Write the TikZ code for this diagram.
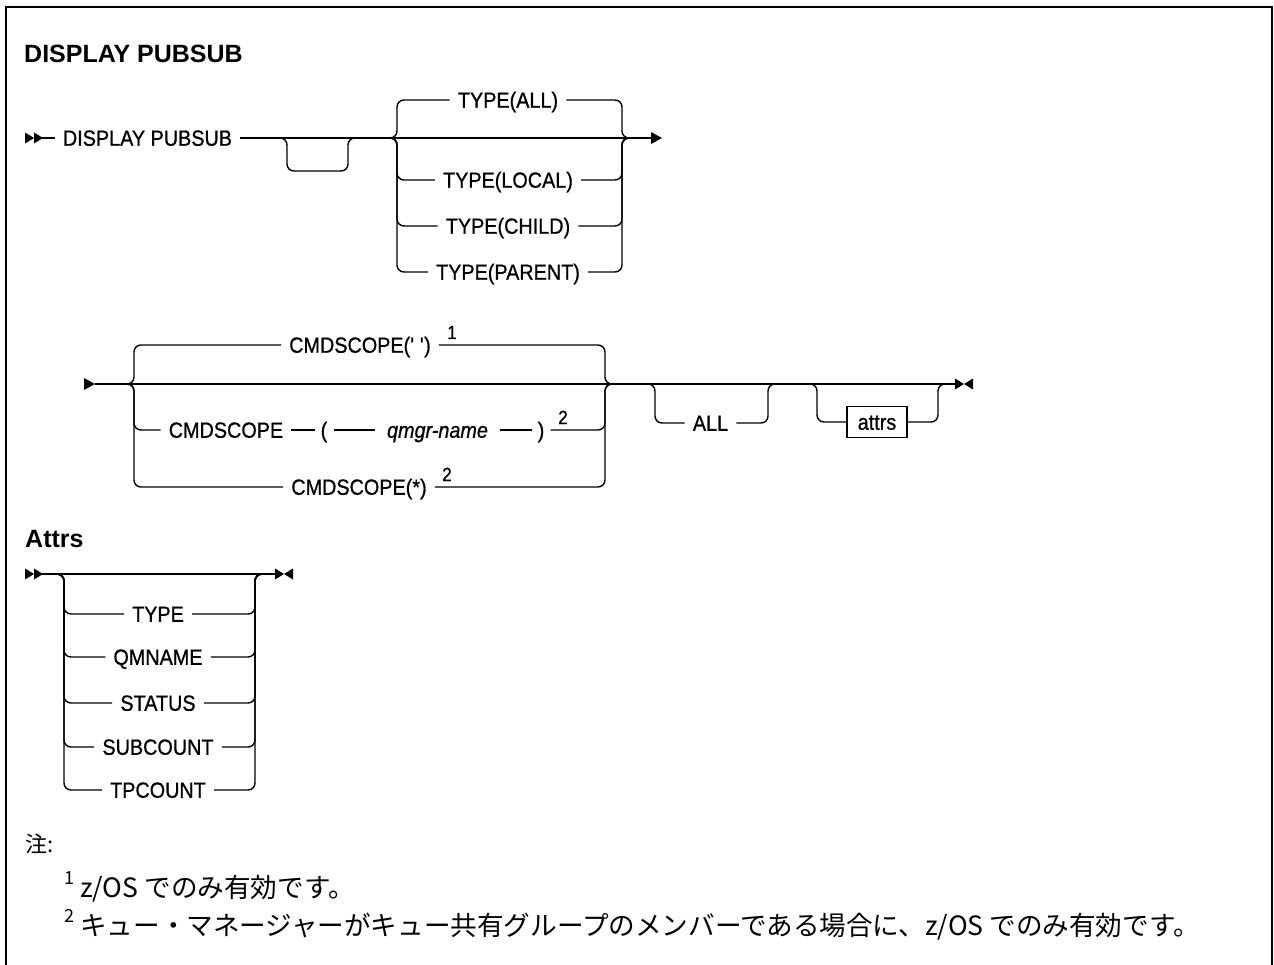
\documentclass[tikz,border=0pt]{standalone}
\usepackage{fontspec}
\setmainfont{Liberation Sans}
\newfontfamily\dg[FakeStretch=0.9,FakeBold=0.8]{Liberation Sans}
\newfontfamily\jp{Noto Sans CJK JP}
\tikzset{
  ln/.style={line width=1.4pt},
  rc/.style={line width=1.4pt, rounded corners=7pt},
  lbl/.style={inner xsep=8pt, inner ysep=0pt, text height=15.5pt, text depth=0pt, font=\dg\fontsize{22}{26}\selectfont},
  supn/.style={inner sep=0pt, anchor=base, font=\dg\fontsize{19}{22}\selectfont},
  head/.style={inner sep=0pt, anchor=base west, font=\fontsize{25}{30}\selectfont\bfseries},
  boxed/.style={draw, line width=1.4pt, inner sep=0pt, minimum width=60pt, minimum height=31pt, text height=15.5pt, text depth=0pt, font=\dg\fontsize{22}{26}\selectfont},
  jpn/.style={inner sep=0pt, anchor=base west, font=\jp\fontsize{26.6}{30}\selectfont},
  jsup/.style={inner sep=0pt, anchor=base west, font=\jp\fontsize{18}{20}\selectfont},
}
\begin{document}
\begin{tikzpicture}[x=1pt,y=-1pt]
\useasboundingbox (0,0) rectangle (1274,965);
\draw[line width=2pt] (6,966) -- (6,7) -- (1272,7) -- (1272,966);

% ---------- DISPLAY PUBSUB ----------
\node[head] (h1) at (24,63) {DISPLAY PUBSUB};

% line 1
\fill (25,132.5) -- (34,138) -- (25,143.5) -- cycle;
\fill (34,132.5) -- (43,138) -- (34,143.5) -- cycle;
\coordinate (s1) at (34,138);
\node[lbl] (d1) at (147.5,138) {DISPLAY PUBSUB};
\coordinate (e1) at (651,138);
\draw[ln] (s1) -- (d1.west);
\draw[ln] (d1.east) -- (e1);
\fill (651,132) -- (662,138) -- (651,144) -- cycle;

% empty loop
\coordinate (g0a) at (279,138);
\coordinate (g0b) at (356,138);
\draw[rc] (g0a) -- (287,138) -- (287,171) -- (348,171) -- (348,138) -- (g0b);

% TYPE choice
\foreach \n/\t/\y in {ta/TYPE(ALL)/100, tl/TYPE(LOCAL)/180, tc/TYPE(CHILD)/226, tp/TYPE(PARENT)/272} {
  \node[lbl] (\n) at (508,\y) {\t};
  \draw[rc] (389,138) -- (397,138) -- (397,\y) -- (\n.west);
  \draw[rc] (\n.east) -- (622,\y) -- (622,138) -- (630,138);
}

% line 2
\fill (84,378) -- (95,384) -- (84,390) -- cycle;
\coordinate (s2) at (95,384);
\coordinate (e2) at (955,384);
\draw[ln] (s2) -- (e2);
\fill (955,378.5) -- (964,384) -- (955,389.5) -- cycle;
\fill (973,378.5) -- (964,384) -- (973,389.5) -- cycle;

% CMDSCOPE choice
\node[lbl] (c1) at (360,345) {CMDSCOPE(\textquotesingle\ \textquotesingle)};
\node[supn] (n1) at (452,339) {1};
\draw[rc] (126,384) -- (134,384) -- (134,345) -- (c1.west);
\draw[rc] (c1.east) -- (605,345) -- (605,384) -- (613,384);

\node[lbl] (c2) at (226,430) {CMDSCOPE};
\node[lbl, inner xsep=6pt] (lp) at (324,430) {(};
\node[lbl, inner xsep=12pt, font=\dg\fontsize{22}{26}\selectfont\itshape] (qn) at (437.5,430) {qmgr-name};
\node[lbl, inner xsep=6pt] (rp) at (541,430) {)};
\node[supn] (n2) at (563,424) {2};
\draw[rc] (126,384) -- (134,384) -- (134,430) -- (c2.west);
\draw[ln] (c2.east) -- (lp.west);
\draw[ln] (lp.east) -- (qn.west);
\draw[ln] (qn.east) -- (rp.west);
\draw[rc] (rp.east) -- (605,430) -- (605,384) -- (613,384);

\node[lbl] (c3) at (359,487) {CMDSCOPE(*)};
\node[supn] (n3) at (447,481) {2};
\draw[rc] (126,384) -- (134,384) -- (134,487) -- (c3.west);
\draw[rc] (c3.east) -- (605,487) -- (605,384) -- (613,384);

% ALL optional
\node[lbl] (al) at (710.5,423) {ALL};
\draw[rc] (647,384) -- (655,384) -- (655,423) -- (al.west);
\draw[rc] (al.east) -- (768,423) -- (768,384) -- (776,384);

% attrs optional
\node[boxed] (at) at (877,422) {attrs};
\draw[rc] (809,384) -- (817,384) -- (817,422) -- (at.west);
\draw[rc] (at.east) -- (938,422) -- (938,384) -- (946,384);

% ---------- Attrs ----------
\node[head] (h2) at (25,547) {Attrs};
\fill (25,568.5) -- (34,574) -- (25,579.5) -- cycle;
\fill (34,568.5) -- (43,574) -- (34,579.5) -- cycle;
\coordinate (s3) at (34,574);
\coordinate (e3) at (275,574);
\draw[ln] (s3) -- (e3);
\fill (275,568.5) -- (284,574) -- (275,579.5) -- cycle;
\fill (293,568.5) -- (284,574) -- (293,579.5) -- cycle;

\foreach \n/\t/\y in {a1/TYPE/614, a2/QMNAME/657, a3/STATUS/703, a4/SUBCOUNT/747, a5/TPCOUNT/790} {
  \node[lbl] (\n) at (158,\y) {\t};
  \draw[rc] (56,574) -- (64,574) -- (64,\y) -- (\n.west);
  \draw[rc] (\n.east) -- (255,\y) -- (255,574) -- (263,574);
}

% ---------- Notes ----------
\node[jpn, font=\jp\fontsize{22}{26}\selectfont] (nt) at (25,852) {注:};
\node[jsup] (f1) at (64,884) {1};
\node[jpn] (l1) at (80,897) {z/OS でのみ有効です。};
\node[jsup] (f2) at (64,922) {2};
\node[jpn] (l2) at (80,935) {キュー・マネージャーがキュー共有グループのメンバーである場合に、z/OS でのみ有効です。};
\end{tikzpicture}
\end{document}
